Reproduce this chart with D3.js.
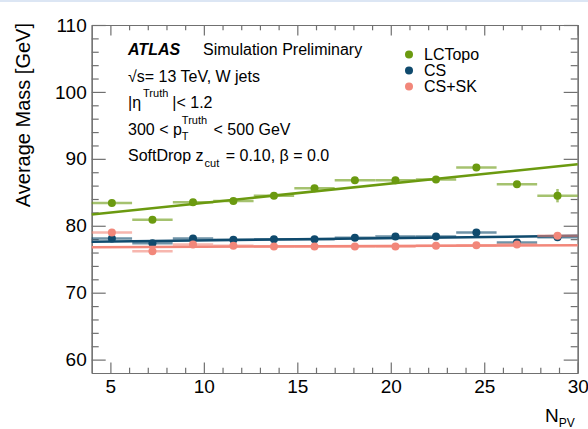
<!DOCTYPE html>
<meta charset="utf-8">
<head>
  <title>Average mass vs NPV</title>
</head>

<style>
body { margin: 0; background: #fff; }
text { font-family: "Liberation Sans", Arial, sans-serif; fill: #000; }
.axis path, .axis line { stroke: #707070; stroke-width: 1.2; }
.axis text { font-size: 19px; fill: #000; }
</style>

<body>
  <svg width="588" height="429"></svg>

  <script src="https://cdnjs.cloudflare.com/ajax/libs/d3/7.8.5/d3.min.js"></script>
  <script>

// bin centres (12 bins between 4 and 30) and half width
const npv = [5.08, 7.25, 9.42, 11.58, 13.75, 15.92, 18.08, 20.25, 22.42, 24.58, 26.75, 28.92];
const binHalf = 1.08;

const lcTopo = [83.4, 80.9, 83.5, 83.7, 84.5, 85.6, 86.8, 86.8, 86.9, 88.7, 86.2, 84.5];
const lcErr  = [0.3, 0.3, 0.3, 0.3, 0.3, 0.3, 0.3, 0.3, 0.3, 0.4, 0.4, 1.0];
const cs     = [78.1, 77.4, 78.1, 77.9, 78.0, 78.0, 78.2, 78.4, 78.4, 79.0, 77.5, 78.3];
const csErr  = [0.2, 0.2, 0.2, 0.2, 0.2, 0.2, 0.2, 0.2, 0.2, 0.3, 0.3, 0.4];
const csSK   = [79.0, 76.2, 77.2, 77.0, 76.9, 76.9, 76.9, 76.9, 77.0, 77.1, 77.2, 78.5];
const skErr  = [0.2, 0.2, 0.2, 0.2, 0.2, 0.2, 0.2, 0.2, 0.2, 0.3, 0.3, 0.4];

// linear fits: value at N_PV = 4 and at N_PV = 30
const fitX  = [4, 30];
const lcFit = [81.7, 89.2];
const csFit = [77.6, 78.5];
const skFit = [76.8, 77.1];

const xMajor = [5, 10, 15, 20, 25, 30];
const yMajor = [60, 70, 80, 90, 100, 110];

const series = [
  {name: "LCTopo", vals: lcTopo, err: lcErr, fit: lcFit, color: "#6b9a10"},
  {name: "CS",     vals: cs,     err: csErr, fit: csFit, color: "#0f4a6d"},
  {name: "CS+SK",  vals: csSK,   err: skErr, fit: skFit, color: "#f2877a"}
];

const svg = d3.select("svg");
svg.append("rect").attr("x", 0).attr("y", 0).attr("width", 588).attr("height", 2).attr("fill", "#dce6f4");

const pLeft = 91.7, pRight = 577.7, pTop = 25, pBottom = 373;
const x = d3.scaleLinear().domain([4, 30]).range([pLeft, pRight]);
const y = d3.scaleLinear().domain([58, 110]).range([pBottom, pTop]);

// axes: ticks inside the frame on all sides
const xMinor = d3.range(5, 30).filter(d => d % 5 != 0);
const yMinor = d3.range(60, 110, 2).filter(d => d % 10 != 0);

svg.append("g").attr("class", "axis").attr("transform", `translate(0,${pBottom})`)
  .call(d3.axisBottom(x).tickValues(xMajor).tickSize(-10.5).tickSizeOuter(0).tickPadding(6.5));
svg.append("g").attr("class", "axis").attr("transform", `translate(0,${pBottom})`)
  .call(d3.axisBottom(x).tickValues(xMinor).tickSize(-5.3).tickSizeOuter(0).tickFormat(""));
svg.append("g").attr("class", "axis").attr("transform", `translate(0,${pTop})`)
  .call(d3.axisTop(x).tickValues(xMajor).tickSize(-10.5).tickSizeOuter(0).tickFormat(""));
svg.append("g").attr("class", "axis").attr("transform", `translate(0,${pTop})`)
  .call(d3.axisTop(x).tickValues(xMinor).tickSize(-5.3).tickSizeOuter(0).tickFormat(""));

svg.append("g").attr("class", "axis").attr("transform", `translate(${pLeft},0)`)
  .call(d3.axisLeft(y).tickValues(yMajor).tickSize(-14).tickSizeOuter(0).tickPadding(5));
svg.append("g").attr("class", "axis").attr("transform", `translate(${pLeft},0)`)
  .call(d3.axisLeft(y).tickValues(yMinor).tickSize(-7).tickSizeOuter(0).tickFormat(""));
svg.append("g").attr("class", "axis").attr("transform", `translate(${pRight},0)`)
  .call(d3.axisRight(y).tickValues(yMajor).tickSize(-14).tickSizeOuter(0).tickFormat(""));
svg.append("g").attr("class", "axis").attr("transform", `translate(${pRight},0)`)
  .call(d3.axisRight(y).tickValues(yMinor).tickSize(-7).tickSizeOuter(0).tickFormat(""));

svg.selectAll(".axis text").attr("font-family", '"Liberation Sans", Arial, sans-serif');

// axis titles
svg.append("text")
  .attr("transform", "translate(30,23) rotate(-90)")
  .attr("text-anchor", "end")
  .style("font-size", "20px")
  .text("Average Mass [GeV]");

const xt = svg.append("text").attr("x", 545).attr("y", 422).style("font-size", "19px");
xt.append("tspan").text("N");
xt.append("tspan").attr("dy", 5).style("font-size", "12px").text("PV");

// data
const plot = svg.append("g");
series.forEach(s => {
  const g = plot.append("g");
  g.selectAll(".hbar").data(s.vals).enter().append("line")
    .attr("x1", (d, i) => x(npv[i] - binHalf))
    .attr("x2", (d, i) => x(npv[i] + binHalf))
    .attr("y1", d => y(d)).attr("y2", d => y(d))
    .attr("stroke", s.color).attr("stroke-width", 2.5).attr("opacity", 0.6);
  g.selectAll(".vbar").data(s.vals).enter().append("line")
    .attr("x1", (d, i) => x(npv[i])).attr("x2", (d, i) => x(npv[i]))
    .attr("y1", (d, i) => y(d - s.err[i])).attr("y2", (d, i) => y(d + s.err[i]))
    .attr("stroke", s.color).attr("stroke-width", 2.5).attr("opacity", 0.6);
  g.append("line")
    .attr("x1", x(fitX[0])).attr("x2", x(fitX[1]))
    .attr("y1", y(s.fit[0])).attr("y2", y(s.fit[1]))
    .attr("stroke", s.color).attr("stroke-width", 2.5);
  g.selectAll("circle").data(s.vals).enter().append("circle")
    .attr("cx", (d, i) => x(npv[i])).attr("cy", d => y(d))
    .attr("r", 4).attr("fill", s.color);
});

// legend
const leg = svg.append("g");
series.forEach((s, i) => {
  leg.append("circle").attr("cx", 409).attr("cy", 54.5 + i * 16).attr("r", 4).attr("fill", s.color);
  leg.append("text").attr("x", 424).attr("y", 60 + i * 16).style("font-size", "16px").text(s.name);
});

// label block, drawn piece by piece for sub/superscripts
function rich(x0, y0, parts) {
  let cx = x0;
  parts.forEach(p => {
    const t = svg.append("text")
      .attr("x", cx + (p.gap || 0)).attr("y", y0 + (p.dy || 0))
      .style("font-size", (p.fs || 16) + "px")
      .style("font-weight", p.bold ? "bold" : null)
      .style("font-style", p.italic ? "italic" : null)
      .style("white-space", "pre")
      .text(p.t);
    const w = t.node().getComputedTextLength();
    if (p.adv !== false) cx += w + (p.gap || 0);
  });
}

rich(128, 55, [{t: "ATLAS", bold: true, italic: true}]);
rich(203, 55, [{t: "Simulation Preliminary"}]);
rich(128, 81.6, [{t: "\u221As= 13 TeV, W jets"}]);
rich(128, 108.3, [{t: "|\u03B7"}, {t: "Truth", fs: 11, dy: -11, gap: 2}, {t: "|< 1.2", gap: 4}]);
rich(128, 135, [{t: "300 < p"}, {t: "T", fs: 11, dy: 5, adv: false}, {t: "Truth", fs: 11, dy: -11}, {t: " < 500 GeV", gap: 2}]);
rich(128, 161.4, [{t: "SoftDrop z"}, {t: "cut", fs: 11, dy: 6, gap: 1}, {t: " = 0.10, \u03B2 = 0.0", gap: 2}]);

  </script>
</body>
</html>
